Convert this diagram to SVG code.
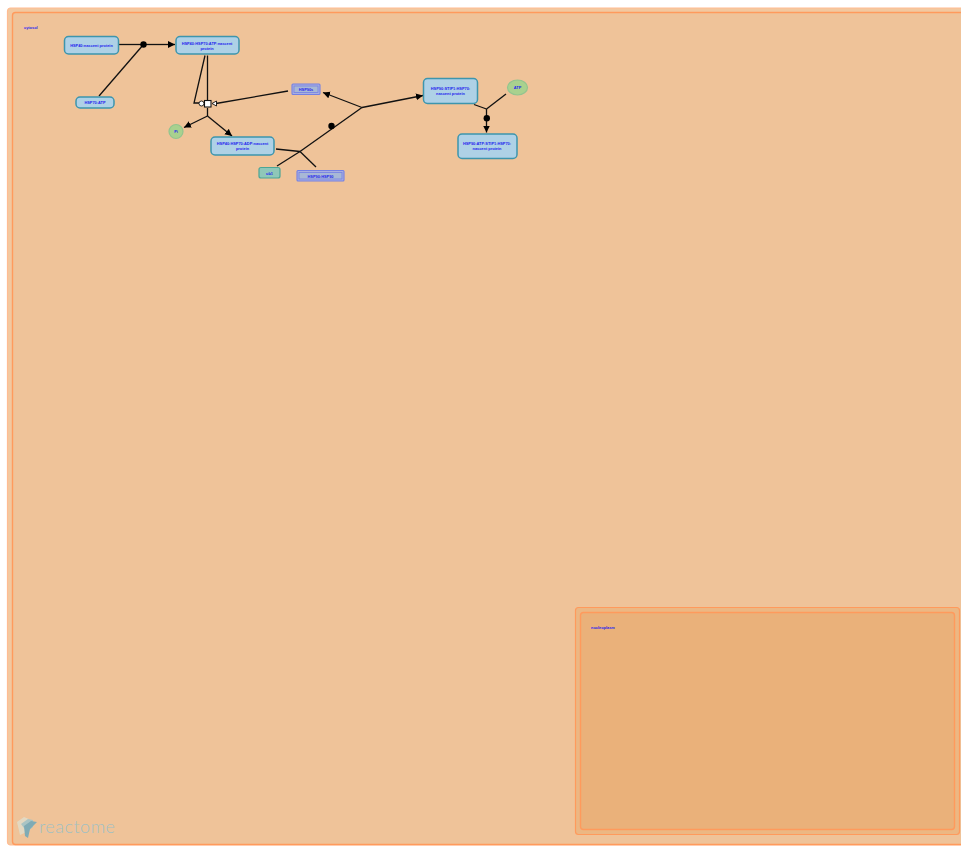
<svg xmlns="http://www.w3.org/2000/svg" width="961" height="846" viewBox="0 0 961 846">
<style>
text{font-family:"Liberation Sans",Arial,sans-serif;font-size:3.9px;font-weight:bold;fill:#2222ee;text-anchor:middle}
.comp{stroke:#ff9a5c;stroke-width:1.4}
.lbl{text-anchor:start}
.prot{fill:#aed1e6;stroke:#3d95ad;stroke-width:1.5}
.small{fill:#a9d18e;stroke:#93c48f;stroke-width:1.2}
.set{fill:#a9afe0;stroke:#7480e4;stroke-width:1.1}
.set2{fill:#a8b8d6;stroke:#7480e4;stroke-width:.8}
.rna{fill:#8fc7b8;stroke:#4ba595;stroke-width:1.2}
.c{fill:none;stroke:#111;stroke-width:1.3}
.dot{fill:#000}
</style>
<defs>
<marker id="arr" markerWidth="9" markerHeight="8" refX="7" refY="3.500" orient="auto" markerUnits="userSpaceOnUse"><path d="M0 0L7 3.500L0 7Z" fill="#000"/></marker>
</defs>
<rect width="961" height="846" fill="#fff"/>
<g id="cytosol">
<rect x="7.500" y="8" width="970" height="837" rx="3" fill="#f2c8a0" stroke="#ffbc92" stroke-width="1.2"/>
<rect x="12.500" y="12.500" width="960" height="832" rx="3" fill="#efc399" class="comp"/>
<text class="lbl" x="24" y="29">cytosol</text>
</g>
<g id="nucleoplasm">
<rect x="575.500" y="607.500" width="384" height="227" rx="3" fill="#ecb783" stroke="#ff9a5c" stroke-width="1.2"/>
<rect x="580.500" y="612.500" width="374" height="217" rx="3" fill="#eab17a" class="comp"/>
<text class="lbl" x="591" y="629">nucleoplasm</text>
</g>
<g id="connectors">
<path class="c" d="M119 44.500H143.500" />
<path class="c" d="M99 96L143.500 44.500" />
<path class="c" marker-end="url(#arr)" d="M143.500 44.500H175" />
<path class="c" d="M205 55.500L194 103H201" />
<path class="c" d="M207.500 55.500V101" />
<path class="c" d="M288 91L216 103.500" />
<path class="c" d="M207.500 108V116" />
<path class="c" marker-end="url(#arr)" d="M207.500 116L184 127.500" />
<path class="c" marker-end="url(#arr)" d="M207.500 116L232 136" />
<path class="c" d="M276 149L300 151.500" />
<path class="c" d="M277 166L300 151.500" />
<path class="c" d="M316 167L300 151.500" />
<path class="c" d="M300 151.500L362 107.500" />
<path class="c" marker-end="url(#arr)" d="M362 107.500L323 92.500" />
<path class="c" marker-end="url(#arr)" d="M362 107.500L423 95.500" />
<path class="c" d="M474 104.500L486.500 109" />
<path class="c" d="M506 94L486.500 109" />
<path class="c" marker-end="url(#arr)" d="M486.500 109V132.500" />
<circle class="dot" cx="143.500" cy="44.500" r="3.200"/>
<circle class="dot" cx="331.500" cy="126" r="3.200"/>
<circle class="dot" cx="486.800" cy="118.300" r="3.200"/>
<circle cx="201.500" cy="103.500" r="2.500" fill="#fff" stroke="#111" stroke-width=".9"/>
<rect x="204.500" y="100.500" width="6.500" height="6.500" fill="#fff" stroke="#111" stroke-width="1.100"/>
<path d="M212 103.500L216.500 101V106Z" fill="#fff" stroke="#111" stroke-width=".9"/>
</g>
<g id="n1"><rect class="prot" x="64.500" y="36.500" width="54" height="17.500" rx="4"/><text x="91.500" y="47">HSP40:nascent protein</text></g>
<g id="n2"><rect class="prot" x="176" y="36.500" width="63" height="17.500" rx="4"/><text x="207" y="44.500">HSP40:HSP70:ATP:nascent</text><text x="207" y="49.800">protein</text></g>
<g id="n3"><rect class="prot" x="76" y="97" width="38" height="11" rx="4"/><text x="95" y="104">HSP70:ATP</text></g>
<g id="n4"><circle class="small" cx="176" cy="131.500" r="7"/><text x="176" y="133">Pi</text></g>
<g id="n5"><rect class="prot" x="211" y="137" width="63" height="18" rx="4"/><text x="242.500" y="145">HSP40:HSP70:ADP:nascent</text><text x="242.500" y="150.300">protein</text></g>
<g id="n6"><rect class="set" x="292" y="84" width="28" height="10.500" rx="1"/><rect class="set2" x="294" y="86" width="24" height="6.500"/><text x="306" y="91">HSP90s</text></g>
<g id="n7"><rect class="rna" x="259" y="167.500" width="21" height="10.500" rx="2"/><text x="269.500" y="174.500">ub1</text></g>
<g id="n8"><rect class="set" x="297" y="170.500" width="47" height="10.500" rx="1"/><rect class="set2" x="299" y="172.500" width="43" height="6.500"/><text x="320.500" y="177.500">HSP90:HSP90</text></g>
<g id="n9"><rect class="prot" x="423.500" y="78.500" width="54" height="25" rx="4"/><text x="450.500" y="90">HSP90:STIP1:HSP70:</text><text x="450.500" y="94.800">nascent protein</text></g>
<g id="n10"><ellipse class="small" cx="517.500" cy="87.500" rx="10" ry="7.500"/><text x="517.500" y="89">ATP</text></g>
<g id="n11"><rect class="prot" x="458" y="134" width="59" height="24.500" rx="4"/><text x="487" y="144.500">HSP90:ATP:STIP1:HSP70:</text><text x="487" y="149.500">nascent protein</text></g>
<g id="logo">
<path d="M17 822L24 817L29 819V831L20 835Z" fill="#e0dcc8" opacity=".85"/>
<path d="M21 824L28 819L33 820V827L27 832Z" fill="#a9c4c4"/>
<path d="M24 826L31 821L37 822L30 829L28 838L25 836Z" fill="#7fabb5"/>
<text x="39" y="833" style="font-family:Lato,sans-serif;font-size:18px;font-weight:300;fill:#9fc0c4;text-anchor:start;letter-spacing:.5px">reactome</text>
</g>
</svg>
